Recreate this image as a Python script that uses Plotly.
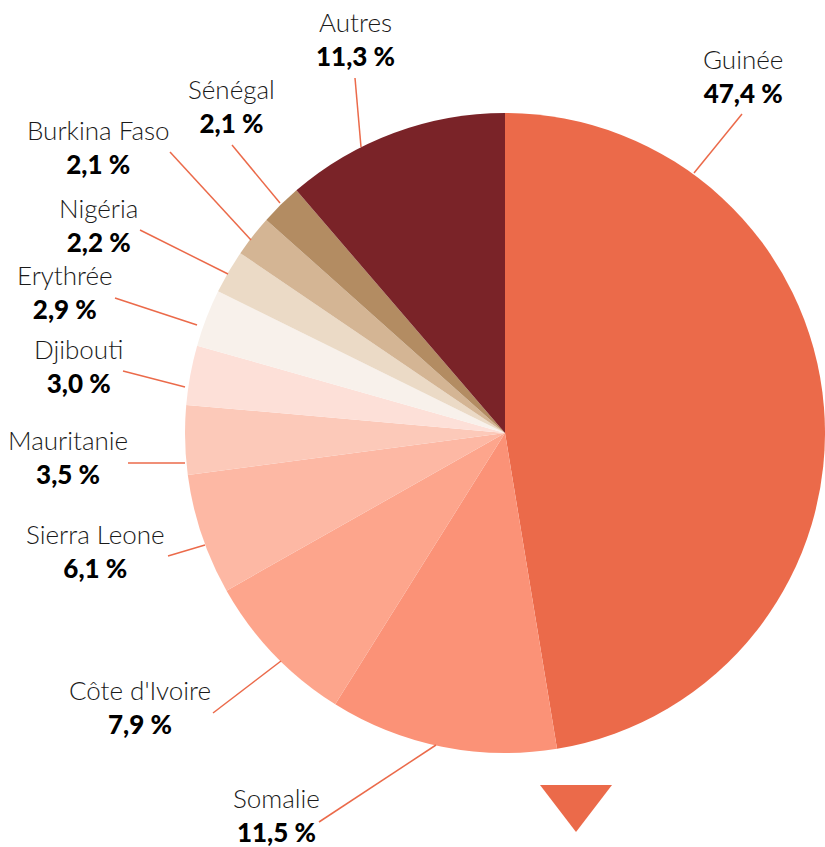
import plotly.graph_objects as go

# ---- data ----
countries = ["Guinée", "Somalie", "Côte d'Ivoire", "Sierra Leone", "Mauritanie",
             "Djibouti", "Erythrée", "Nigéria", "Burkina Faso", "Sénégal", "Autres"]
shares = [47.4, 11.5, 7.9, 6.1, 3.5, 3.0, 2.9, 2.2, 2.1, 2.1, 11.3]
colors = ["#EB6A4A", "#FB9277", "#FDA58C", "#FDB8A4", "#FCC9B9", "#FDE0D8",
          "#F8F1EB", "#EBDAC6", "#D4B594", "#B38C62", "#7A2328"]

# ---- layout constants (pixel positions of labels and leader lines) ----
W, H = 825, 847
label_pos = {
    "Guinée": (743, 76), "Somalie": (276, 815), "Côte d'Ivoire": (140, 707),
    "Sierra Leone": (95, 551), "Mauritanie": (68, 457), "Djibouti": (78, 366),
    "Erythrée": (65, 292), "Nigéria": (98, 225), "Burkina Faso": (98, 147),
    "Sénégal": (232, 106), "Autres": (355, 39),
}
leaders = {
    "Guinée": ((742, 114), (694, 173)), "Somalie": ((319, 822), (436, 745)),
    "Côte d'Ivoire": ((213, 713), (281, 661)), "Sierra Leone": ((168, 556), (205, 545)),
    "Mauritanie": ((128, 463), (185, 463)), "Djibouti": ((123, 371), (185, 387)),
    "Erythrée": ((115, 298), (197, 325)), "Nigéria": ((140, 230), (228, 274)),
    "Burkina Faso": ((170, 152), (251, 240)), "Sénégal": ((232, 145), (280, 203)),
    "Autres": ((355, 78), (361, 147)),
}

def px(x):
    return x / W

def py(y):
    return 1 - y / H

fig = go.Figure(go.Pie(
    labels=countries, values=shares, sort=False, direction="clockwise", rotation=0,
    marker=dict(colors=colors, line=dict(width=0)),
    textinfo="none", hoverinfo="label+percent", showlegend=False,
    domain=dict(x=[185 / W, 825 / W], y=[py(753), py(113)]),
))

annotations = []
shapes = []
for c, v in zip(countries, shares):
    x, y = label_pos[c]
    pct = f"{v:.1f}".replace(".", ",") + " %"
    annotations.append(dict(
        x=px(x), y=py(y), xref="paper", yref="paper", showarrow=False,
        text=f"{c}<br><span style='font-weight:900;fill:#000'>{pct}</span>", align="center",
        font=dict(family="Lato", size=26, color="#1a1a1a", weight=300),
        xanchor="center", yanchor="middle",
    ))
    (x0, y0), (x1, y1) = leaders[c]
    shapes.append(dict(type="line", xref="paper", yref="paper",
                       x0=px(x0), y0=py(y0), x1=px(x1), y1=py(y1),
                       line=dict(color="#EB6A4A", width=1.5)))

# decorative triangle
shapes.append(dict(type="path", xref="paper", yref="paper",
                   path=f"M {px(540)} {py(785)} L {px(612)} {py(785)} L {px(576)} {py(832)} Z",
                   fillcolor="#EB6A4A", line=dict(width=0)))

fig.update_layout(
    width=W, height=H, margin=dict(l=0, r=0, t=0, b=0),
    paper_bgcolor="white", plot_bgcolor="white",
    annotations=annotations, shapes=shapes,
)
fig.write_html("out.html", config={"displayModeBar": False},
               post_script="document.body.style.margin='0';document.body.style.overflow='hidden';")
